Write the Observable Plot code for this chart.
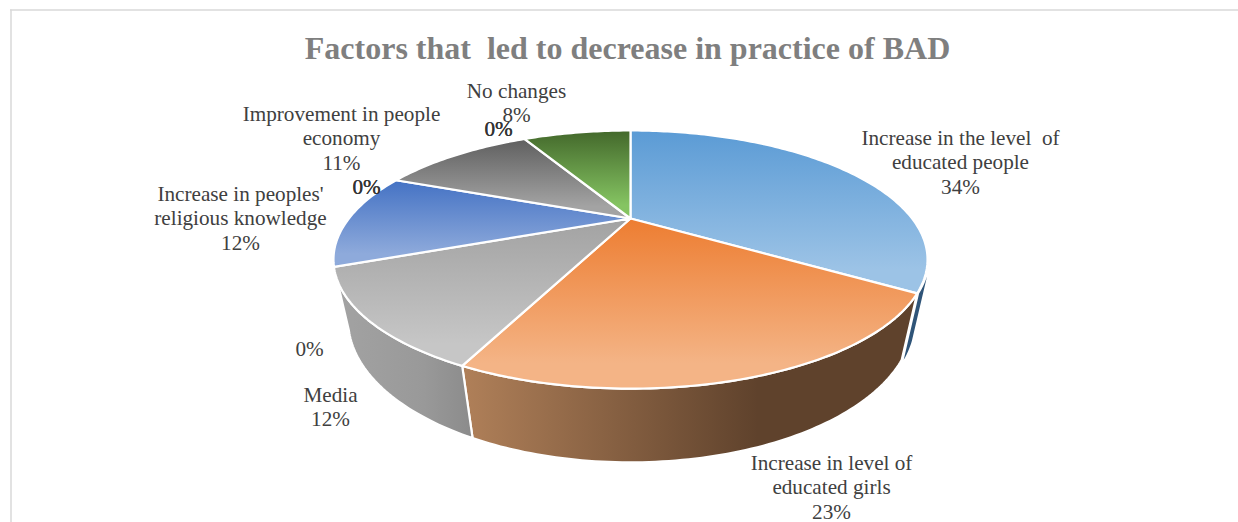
<!DOCTYPE html>
<html>
<head>
<meta charset="utf-8">
<script src="https://cdn.jsdelivr.net/npm/d3@7"></script>
<script src="https://cdn.jsdelivr.net/npm/@observablehq/plot@0.6"></script>
<style>
  html, body { margin: 0; padding: 0; background: #fff; }
  svg { display: block; }
</style>
</head>
<body>
<div id="chart"></div>
<script>
// Slice shares, clockwise from twelve o'clock
const names = [
  "Increase in the level  of\neducated people",
  "Increase in level of\neducated girls",
  "Media",
  "Increase in peoples'\nreligious knowledge",
  "Improvement in people\neconomy",
  "No changes"
];
const shares = [34, 23, 12, 12, 11, 8];

// Label anchors for each slice, and the zero-valued data labels
// (two of those labels sit on top of one another, so they print heavier)
const labelX = [960, 831, 330, 240, 341, 516];
const labelY = [161, 486, 406, 217, 137, 102];
const zeroX = [309, 366, 498];
const zeroY = [348, 186, 128];
const zeroCount = [1, 2, 2];

// Face and wall gradients per slice
const faceFrom = ["#5b9bd5", "#ed7d31", "#a2a2a2", "#4472c4", "#5f5f5f", "#43682b"];
const faceTo = ["#9cc3e6", "#f4b486", "#c6c6c6", "#8eaadb", "#a3a3a3", "#85c462"];
const wallFrom = ["#2f5478", "#b08059", "#a3a3a3"];
const wallMid = ["#2f5478", "#5f422c", "#999999"];
const wallTo = ["#2f5478", "#5f422c", "#8b8b8b"];

const W = 1238, H = 522;

// Perspective view of the disc: a point at angle a (degrees clockwise from the
// far side) on the top face or on the base, projected on to the page.
const cx = 630, cy = 218, scaleX = 281.6, tilt = 0.318, foreshorten = -46.7;
function project(a, r, base) {
  const t = a * Math.PI / 180;
  const px = r * Math.sin(t), py = r * Math.cos(t);
  const w = 1 + tilt * py + (base ? 0.047 : 0);
  return {
    x: cx + scaleX * px / w,
    y: (cy + foreshorten * py + (base ? 72 : 0)) / w
  };
}
function rim(a0, a1, base) {
  const n = Math.max(2, Math.ceil(Math.abs(a1 - a0)));
  return d3.range(n + 1).map(i => project(a0 + (a1 - a0) * i / n, 1, base));
}

// Cumulative angles from the shares
const ends = d3.cumsum(shares).map(v => v * 3.6);
const starts = [0, ...ends.slice(0, -1)];

const faces = shares.map((_, i) => {
  const c = project(0, 0, false);
  return [c, ...rim(starts[i], ends[i], false), c];
});

// Only the near walls show; the first one starts just before its slice ends
const walls = [
  [ends[0] - 7, ends[0]],
  [starts[1], ends[1]],
  [starts[2], ends[2]]
].map(([a, b]) => {
  const pts = [...rim(a, b, false), ...rim(b, a, true)];
  return [...pts, pts[0]];
});

// Gradient definitions referenced by the fills below
function gradients() {
  const defs = d3.create("svg:defs");
  faceFrom.forEach((c, i) => {
    const g = defs.append("linearGradient").attr("id", `face${i}`)
      .attr("x1", 0).attr("y1", 0).attr("x2", 0).attr("y2", 1);
    g.append("stop").attr("offset", "0%").attr("stop-color", c);
    g.append("stop").attr("offset", "85%").attr("stop-color", faceTo[i]);
  });
  wallFrom.forEach((c, i) => {
    const g = defs.append("linearGradient").attr("id", `wall${i}`)
      .attr("x1", 0).attr("y1", 0).attr("x2", 1).attr("y2", 0);
    g.append("stop").attr("offset", "0%").attr("stop-color", c);
    g.append("stop").attr("offset", "65%").attr("stop-color", wallMid[i]);
    g.append("stop").attr("offset", "100%").attr("stop-color", wallTo[i]);
  });
  return defs.node();
}

const sliceStroke = { stroke: "#fff", strokeWidth: 2.2, strokeLinejoin: "round", curve: "linear" };
const serif = "'Liberation Serif', 'Times New Roman', serif";
const labelFont = { fontFamily: serif, fontSize: 21.2, lineHeight: 1.15, fill: "#404040" };

const labels = names.map((n, i) => ({
  text: `${n}\n${shares[i]}%`, x: labelX[i], y: labelY[i]
}));
const zeros = zeroX.map((x, i) => ({ x, y: zeroY[i], text: "0%", count: zeroCount[i] }));

const chart = Plot.plot({
  width: W,
  height: H,
  margin: 0,
  x: { domain: [0, W], range: [0, W], axis: null },
  y: { domain: [0, H], range: [0, H], axis: null },
  marks: [
    gradients,
    // Chart frame: top and left edges
    Plot.ruleY([9.5], { x1: 10, x2: W, stroke: "#d9d9d9", strokeWidth: 1.5 }),
    Plot.ruleX([10.5], { y1: 9.5, y2: H, stroke: "#d9d9d9", strokeWidth: 1.5 }),
    // The sliver of the first slice's wall is set slightly apart and has no outline
    Plot.line(walls[0], { x: "x", y: "y", dx: 2, fill: "url(#wall0)", stroke: "none", curve: "linear" }),
    ...walls.slice(1).map((w, i) => Plot.line(w, { x: "x", y: "y", fill: `url(#wall${i + 1})`, ...sliceStroke })),
    ...faces.map((f, i) => Plot.line(f, { x: "x", y: "y", fill: `url(#face${i})`, ...sliceStroke })),
    Plot.text(["Factors that  led to decrease in practice of BAD"], {
      x: [627], y: [48], text: d => d,
      fontFamily: serif,
      fontSize: 32, fontWeight: "bold", fill: "#7f7f7f",
      style: { whiteSpace: "pre" }
    }),
    Plot.text(labels, { x: "x", y: "y", text: "text", ...labelFont, style: { whiteSpace: "pre" } }),
    Plot.text(zeros, { x: "x", y: "y", text: "text", ...labelFont }),
    Plot.text(zeros.filter(d => d.count > 1), {
      x: "x", y: "y", text: "text", ...labelFont, fill: "#333", stroke: "#333", strokeWidth: 0.2
    })
  ]
});
document.getElementById("chart").append(chart);
</script>
</body>
</html>
